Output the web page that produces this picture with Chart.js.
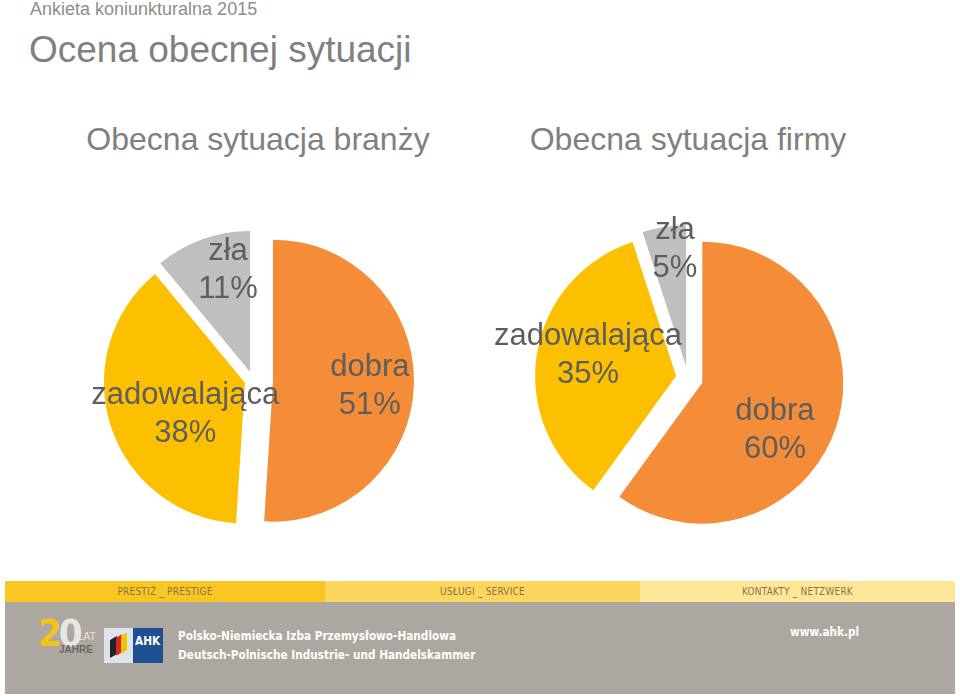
<!DOCTYPE html>
<html>
<head>
<meta charset="utf-8">
<script src="https://cdn.jsdelivr.net/npm/chart.js@4.4.1/dist/chart.umd.min.js"></script>
<style>
  html, body { margin:0; padding:0; background:#fff; }
  body { width:960px; height:696px; position:relative; overflow:hidden; font-family:"Liberation Sans", Arial, sans-serif; }
  .abs { position:absolute; white-space:nowrap; }
  #sup { left:30px; top:-1px; font-size:18px; color:#8e8e8e; }
  #main { left:29px; top:29px; font-size:37px; color:#808080; }
  .ptitle { font-size:32px; color:#808080; top:121px; transform:translateX(-50%); }
  canvas { position:absolute; }
  #band { left:5px; top:581px; width:950px; height:21px; display:flex; }
  #band div { height:100%; display:flex; align-items:center; justify-content:center;
              font-family:"Liberation Sans Narrow","DejaVu Sans Condensed",sans-serif; font-size:10px; color:#85744a; letter-spacing:0.2px; }
  #gray { left:5px; top:602px; width:950px; height:92px; background:#aca8a1; }
  .ft { font-family:"Liberation Sans Narrow","DejaVu Sans Condensed",sans-serif; font-weight:bold; color:#fff; font-size:13px; transform-origin:0 0; transform:scaleX(0.9); }
</style>
</head>
<body>
<div id="sup" class="abs">Ankieta koniunkturalna 2015</div>
<div id="main" class="abs">Ocena obecnej sytuacji</div>
<div class="abs ptitle" style="left:258px">Obecna sytuacja branży</div>
<div class="abs ptitle" style="left:688px">Obecna sytuacja firmy</div>

<canvas id="c1" width="560" height="560" style="left:-27px; top:100px;"></canvas>
<canvas id="c2" width="560" height="560" style="left:408px; top:98px;"></canvas>

<div id="band" class="abs">
  <div style="width:320px; background:#fcc622;">PRESTIŻ _ PRESTIGE</div>
  <div style="width:315px; background:#fdd75c;">USŁUGI _ SERVICE</div>
  <div style="width:315px; background:#fee898;">KONTAKTY _ NETZWERK</div>
</div>
<div id="gray" class="abs"></div>
<!-- footer logos -->
<div class="abs" style="left:38px; top:611px; font-family:'Liberation Sans Narrow','DejaVu Sans Condensed',sans-serif; font-weight:bold; font-size:38px; letter-spacing:-3px;"><span style="color:#f2c318">2</span><span style="color:#e8e6e2">0</span></div>
<div class="abs" style="left:78px; top:631px; font-size:10px; color:#e8e4dc; font-family:'Liberation Sans Narrow',sans-serif;">LAT</div>
<div class="abs" style="left:59px; top:644px; font-size:10px; color:#6b665e; font-weight:bold; font-family:'Liberation Sans Narrow',sans-serif;">JAHRE</div>
<div class="abs" style="left:104px; top:628px; width:29px; height:35px; background:#dfe4ea;"></div>
<div class="abs" style="left:110px; top:638px; width:7px; height:18px; background:#222; transform:skewY(-30deg);"></div>
<div class="abs" style="left:116px; top:636px; width:6px; height:18px; background:#d8262c; transform:skewY(-30deg);"></div>
<div class="abs" style="left:121px; top:634px; width:6px; height:18px; background:#f4c400; transform:skewY(-30deg);"></div>
<div class="abs" style="left:133px; top:628px; width:30px; height:35px; background:#1d4f91;"></div>
<div class="abs ft" style="left:135px; top:633px; font-size:13px;">AHK</div>
<div class="abs ft" style="left:178px; top:628px;">Polsko-Niemiecka Izba Przemysłowo-Handlowa</div>
<div class="abs ft" style="left:178px; top:647px;">Deutsch-Polnische Industrie- und Handelskammer</div>
<div class="abs ft" style="left:790px; top:624px;">www.ahk.pl</div>

<script>
// ---- data ----
const categories = ['dobra', 'zadowalająca', 'zła'];
const branzaValues = [51, 38, 11];   // Obecna sytuacja branży
const firmaValues  = [60, 35, 5];    // Obecna sytuacja firmy
const sliceColors  = ['#f58c37', '#fcc000', '#bfbfbf'];

// ---- styling / placement (not data) ----
const explode1 = [20, 8.5, 8.5];   // explode distance (px) per slice
const explode2 = [15, 12, 12];
// label placement: [fraction of radius, angle shift in degrees]
const place1 = [[0.83, 1.6], [0.54, -9.2], [0.80, 7]];
const place2 = [[0.72, 13.1], [0.727, 3.7], [0.915, 3.2]];

// Draw each library arc element pushed out along its mid-angle (exploded pie)
const explodePlugin = {
  id: 'explode',
  beforeDatasetDraw(chart, args) {
    const ctx = chart.ctx;
    const gaps = chart.options.plugins.explode.gaps;
    args.meta.data.forEach((arc, i) => {
      const p = arc.getProps(['startAngle', 'endAngle'], true);
      const mid = (p.startAngle + p.endAngle) / 2;
      ctx.save();
      ctx.translate(Math.cos(mid) * gaps[i], Math.sin(mid) * gaps[i]);
      arc.draw(ctx);
      ctx.restore();
    });
    return false;
  }
};

const labelPlugin = {
  id: 'sliceLabels',
  afterDatasetsDraw(chart) {
    const ctx = chart.ctx;
    const meta = chart.getDatasetMeta(0);
    const ds = chart.data.datasets[0];
    const place = chart.options.plugins.sliceLabels.place;
    const lh = chart.options.plugins.sliceLabels.lineHeight;
    ctx.save();
    ctx.font = '31px "Liberation Sans", Arial, sans-serif';
    ctx.fillStyle = '#5e5e5e';
    ctx.textAlign = 'center';
    ctx.textBaseline = 'middle';
    meta.data.forEach((arc, i) => {
      const p = arc.getProps(['x', 'y', 'startAngle', 'endAngle', 'outerRadius'], true);
      const mid = (p.startAngle + p.endAngle) / 2 + place[i][1] * Math.PI / 180;
      const r = p.outerRadius * place[i][0];
      const cx = p.x + Math.cos(mid) * r;
      const cy = p.y + Math.sin(mid) * r;
      ctx.fillText(chart.data.labels[i], cx, cy - lh / 2);
      ctx.fillText(ds.data[i] + '%', cx, cy + lh / 2);
    });
    ctx.restore();
  }
};

function makePie(id, values, gaps, place, lh) {
  new Chart(document.getElementById(id), {
    type: 'pie',
    data: {
      labels: categories,
      datasets: [{
        data: values,
        backgroundColor: sliceColors,
        borderWidth: 0,
        offset: 0
      }]
    },
    options: {
      responsive: false,
      animation: false,
      radius: 141,
      layout: { padding: 0 },
      plugins: {
        legend: { display: false },
        tooltip: { enabled: false },
        explode: { gaps: gaps },
        sliceLabels: { place: place, lineHeight: lh }
      }
    },
    plugins: [explodePlugin, labelPlugin]
  });
}

makePie('c1', branzaValues, explode1, place1, 38);
makePie('c2', firmaValues, explode2, place2, 38);
</script>
</body>
</html>
